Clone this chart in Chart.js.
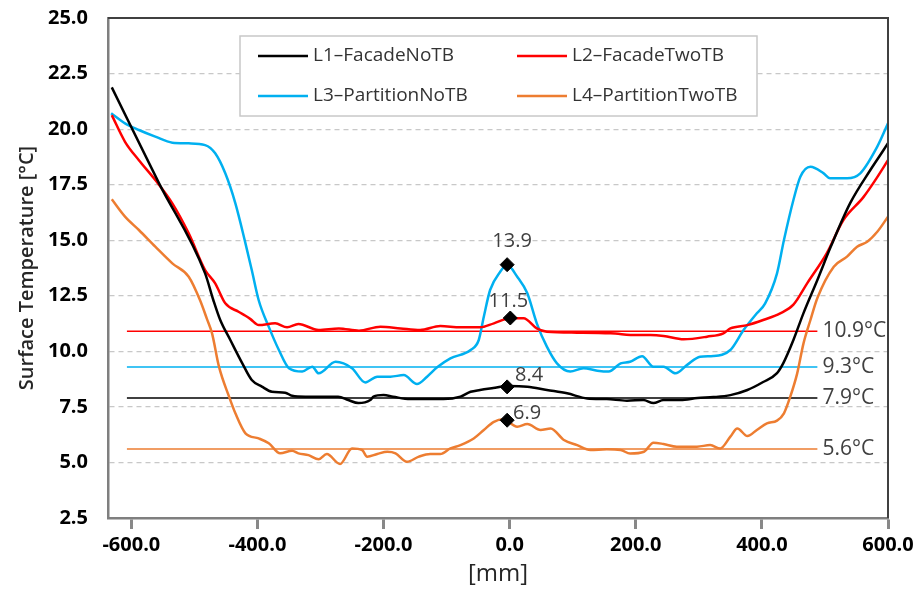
<!DOCTYPE html>
<html>
<head>
<meta charset="utf-8">
<script src="https://cdn.jsdelivr.net/npm/chart.js@4.4.1/dist/chart.umd.min.js"></script>
<style>
  html, body { margin: 0; padding: 0; background: #fff; }
  canvas { display: block; }
</style>
</head>
<body>
<canvas id="chart" width="919" height="592"></canvas>
<script>
// positions along the wall [mm] and surface temperatures [°C]
const l1X = [-631,-556,-483,-470,-459,-443,-424,-409,-393,-377,-356,-345,-324,-272,-256,-240,-221,-216,-200,-185,-158,-105,-78,-62,-47,-26,-4,28,59,91,123,154,186,212,228,244,271,298,323,350,377,402,424,434,450,466,488,509,540,572,593,600];
const l1Y = [21.88,17.56,13.51,12.31,11.41,10.51,9.46,8.71,8.41,8.18,8.14,8.0,7.96,7.96,7.81,7.67,7.81,7.96,8.03,7.96,7.85,7.85,7.96,8.18,8.26,8.35,8.44,8.41,8.26,8.11,7.88,7.85,7.78,7.81,7.67,7.81,7.81,7.9,7.94,8.03,8.26,8.62,9.02,9.47,10.51,11.72,13.21,14.69,16.67,18.16,19.06,19.37];

const l2X = [-631,-610,-588,-562,-535,-509,-483,-467,-451,-430,-419,-411,-398,-372,-353,-335,-303,-271,-239,-205,-173,-142,-110,-78,-47,-25,1,22,43,59,107,160,202,223,244,276,313,339,350,377,402,429,450,472,503,529,561,583,600];
const l2Y = [20.63,19.43,18.6,17.71,16.66,15.31,13.66,13.06,12.16,11.78,11.6,11.45,11.18,11.26,11.08,11.23,10.96,11.03,10.93,11.11,11.03,10.96,11.14,11.08,11.08,11.26,11.49,11.49,11.03,10.88,10.84,10.81,10.73,10.73,10.69,10.54,10.66,10.81,11.03,11.18,11.41,11.71,12.1,13.07,14.42,15.9,16.94,17.84,18.6];

const l3X = [-632,-610,-588,-562,-535,-509,-483,-467,-451,-435,-419,-409,-398,-382,-366,-350,-329,-313,-303,-276,-250,-229,-210,-189,-168,-147,-131,-115,-94,-62,-49,-41,-31,-15,-4,12,28,43,59,75,96,117,139,157,176,191,210,228,244,263,281,302,323,350,371,392,405,424,435,450,461,477,498,508,535,556,583,600];
const l3Y = [20.71,20.26,19.96,19.66,19.39,19.36,19.28,18.91,18.01,16.66,14.86,13.66,12.3,11.1,10.06,9.24,9.09,9.31,9.01,9.53,9.24,8.6,8.86,8.86,8.93,8.53,8.86,9.28,9.68,10.06,10.51,11.56,12.76,13.58,13.88,13.36,12.61,11.26,10.21,9.46,9.09,9.24,9.13,9.09,9.46,9.53,9.78,9.31,9.31,9.01,9.38,9.76,9.79,10.06,10.96,11.71,12.15,13.51,15.01,16.81,17.86,18.31,18.01,17.79,17.79,18.01,19.21,20.26];

const l4X = [-631,-610,-588,-562,-535,-509,-491,-480,-472,-461,-445,-435,-419,-398,-382,-364,-345,-335,-319,-303,-290,-269,-250,-234,-226,-210,-194,-181,-163,-144,-126,-110,-94,-78,-57,-41,-25,-10,12,28,49,65,86,107,128,154,176,191,213,228,244,265,297,318,334,350,361,377,392,408,424,435,445,456,466,477,488,514,535,551,567,583,600];
const l4Y = [16.84,16.06,15.46,14.71,13.96,13.36,12.3,11.45,10.81,9.31,7.96,7.21,6.31,6.08,5.86,5.41,5.53,5.41,5.33,5.14,5.38,4.93,5.63,5.56,5.26,5.38,5.48,5.41,5.03,5.26,5.38,5.38,5.63,5.78,6.08,6.46,6.83,6.94,6.61,6.73,6.46,6.53,6.01,5.78,5.56,5.59,5.56,5.4,5.48,5.89,5.83,5.71,5.71,5.78,5.63,6.16,6.53,6.19,6.46,6.76,6.88,7.21,7.96,9.01,10.36,11.41,12.4,13.81,14.26,14.71,14.93,15.38,16.06];

const seriesNames = ['L1\u2013FacadeNoTB', 'L2\u2013FacadeTwoTB', 'L3\u2013PartitionNoTB', 'L4\u2013PartitionTwoTB'];
const seriesColors = ['#000000', '#ff0000', '#00b0f0', '#ed7d31'];

// mean temperature of each line, drawn as a flat line over this span
const meanValues = [7.9, 10.9, 9.3, 5.6];
const meanSpan = [-607, 488];

// values at the junction (diamonds)
const peakX = [-4, 1, -4, -4];
const peakY = [13.9, 11.5, 8.4, 6.9];

const xTicks = [-600, -400, -200, 0, 200, 400, 600];

const pts = (xs, ys) => xs.map((x, i) => ({ x: x, y: ys[i] }));
const curves = [pts(l1X, l1Y), pts(l2X, l2Y), pts(l3X, l3Y), pts(l4X, l4Y)];

const datasets = [];
curves.forEach((d, i) => {
  datasets.push({
    label: seriesNames[i], data: d, borderColor: seriesColors[i], borderWidth: 2.5,
    pointRadius: 0, cubicInterpolationMode: 'monotone', order: 2
  });
});
meanValues.forEach((v, i) => {
  datasets.push({
    label: 'mean' + i, data: meanSpan.map(x => ({ x: x, y: v })),
    borderColor: seriesColors[i], borderWidth: 1.5, pointRadius: 0, order: 3
  });
});
datasets.push({
  label: 'peaks', data: pts(peakX, peakY), showLine: false,
  pointStyle: 'rectRot', pointRadius: 7, backgroundColor: '#000', borderColor: '#000', order: 1
});

const extras = {
  id: 'extras',
  afterDatasetsDraw(chart) {
    const ctx = chart.ctx, xs = chart.scales.x, ys = chart.scales.y;
    ctx.save();
    // mean labels
    ctx.font = '21px "Open Sans"';
    ctx.fillStyle = '#404040';
    ctx.textAlign = 'left';
    ctx.textBaseline = 'middle';
    meanValues.forEach(v => {
      ctx.fillText(v.toFixed(1) + '\u00b0C', xs.getPixelForValue(meanSpan[1]) + 5, ys.getPixelForValue(v));
    });
    // peak labels
    const offs = [[5, -23], [-2, -17], [22, -12], [20, -7]];
    ctx.font = '20px "Open Sans"';
    ctx.textAlign = 'center';
    peakY.forEach((v, i) => {
      ctx.fillText(v.toFixed(1), xs.getPixelForValue(peakX[i]) + offs[i][0], ys.getPixelForValue(v) + offs[i][1]);
    });
    ctx.restore();
  },
  afterDraw(chart) {
    const ctx = chart.ctx, a = chart.chartArea;
    ctx.save();
    // top and right frame
    ctx.strokeStyle = '#404040';
    ctx.lineWidth = 2;
    ctx.beginPath();
    ctx.moveTo(a.left, a.top);
    ctx.lineTo(a.right, a.top);
    ctx.lineTo(a.right, a.bottom);
    ctx.stroke();
    // legend box
    const bx = 240, by = 36, bw = 517, bh = 80;
    ctx.fillStyle = '#fff';
    ctx.fillRect(bx, by, bw, bh);
    ctx.strokeStyle = '#c8c8c8';
    ctx.lineWidth = 1.5;
    ctx.strokeRect(bx, by, bw, bh);
    const colX = [258, 517], rowY = [56, 96];
    ctx.font = '19px "Open Sans"';
    ctx.textAlign = 'left';
    ctx.textBaseline = 'middle';
    seriesNames.forEach((name, i) => {
      const x = colX[i % 2], y = rowY[Math.floor(i / 2)];
      ctx.strokeStyle = seriesColors[i];
      ctx.lineWidth = 2.5;
      ctx.beginPath();
      ctx.moveTo(x, y);
      ctx.lineTo(x + 50, y);
      ctx.stroke();
      ctx.fillStyle = '#333';
      ctx.fillText(name, x + 55, y);
    });
    ctx.restore();
  }
};

Chart.defaults.font.family = '"Open Sans", sans-serif';

new Chart(document.getElementById('chart'), {
  type: 'line',
  data: { datasets: datasets },
  options: {
    responsive: false,
    devicePixelRatio: 1,
    animation: false,
    layout: { padding: { top: 18, right: 31, left: 0, bottom: 0 } },
    plugins: { legend: { display: false }, tooltip: { enabled: false } },
    scales: {
      x: {
        type: 'linear', min: -637, max: 600,
        afterBuildTicks: s => { s.ticks = xTicks.map(v => ({ value: v })); },
        ticks: { padding: 4, color: '#000', font: { size: 20, weight: 'bold' }, maxRotation: 0, autoSkip: false,
                 callback: v => v.toFixed(1) },
        grid: { drawOnChartArea: false, drawTicks: true, tickLength: 11, tickWidth: 3, tickColor: '#888' },
        border: { color: '#7f7f7f', width: 2.5 },
        title: { display: true, text: '[mm]', color: '#262626', font: { size: 24 }, padding: { top: 0, bottom: 3 } },
        afterFit: s => { s.height = 74; }
      },
      y: {
        min: 2.5, max: 25,
        ticks: { stepSize: 2.5, padding: 20, color: '#000', font: { size: 20, weight: 'bold' },
                 callback: v => v.toFixed(1) },
        grid: { color: '#c8c8c8', lineWidth: 1.2, drawTicks: false },
        border: { color: '#7f7f7f', width: 2.5, dash: [5, 4] },
        title: { display: true, text: 'Surface Temperature [\u00b0C]', color: '#262626',
                 font: { size: 20, weight: '600' }, padding: { top: 15 } },
        afterFit: s => { s.width = 108; s.paddingTop = 0; s.paddingBottom = 0; }
      }
    }
  },
  plugins: [extras]
});
</script>
</body>
</html>
